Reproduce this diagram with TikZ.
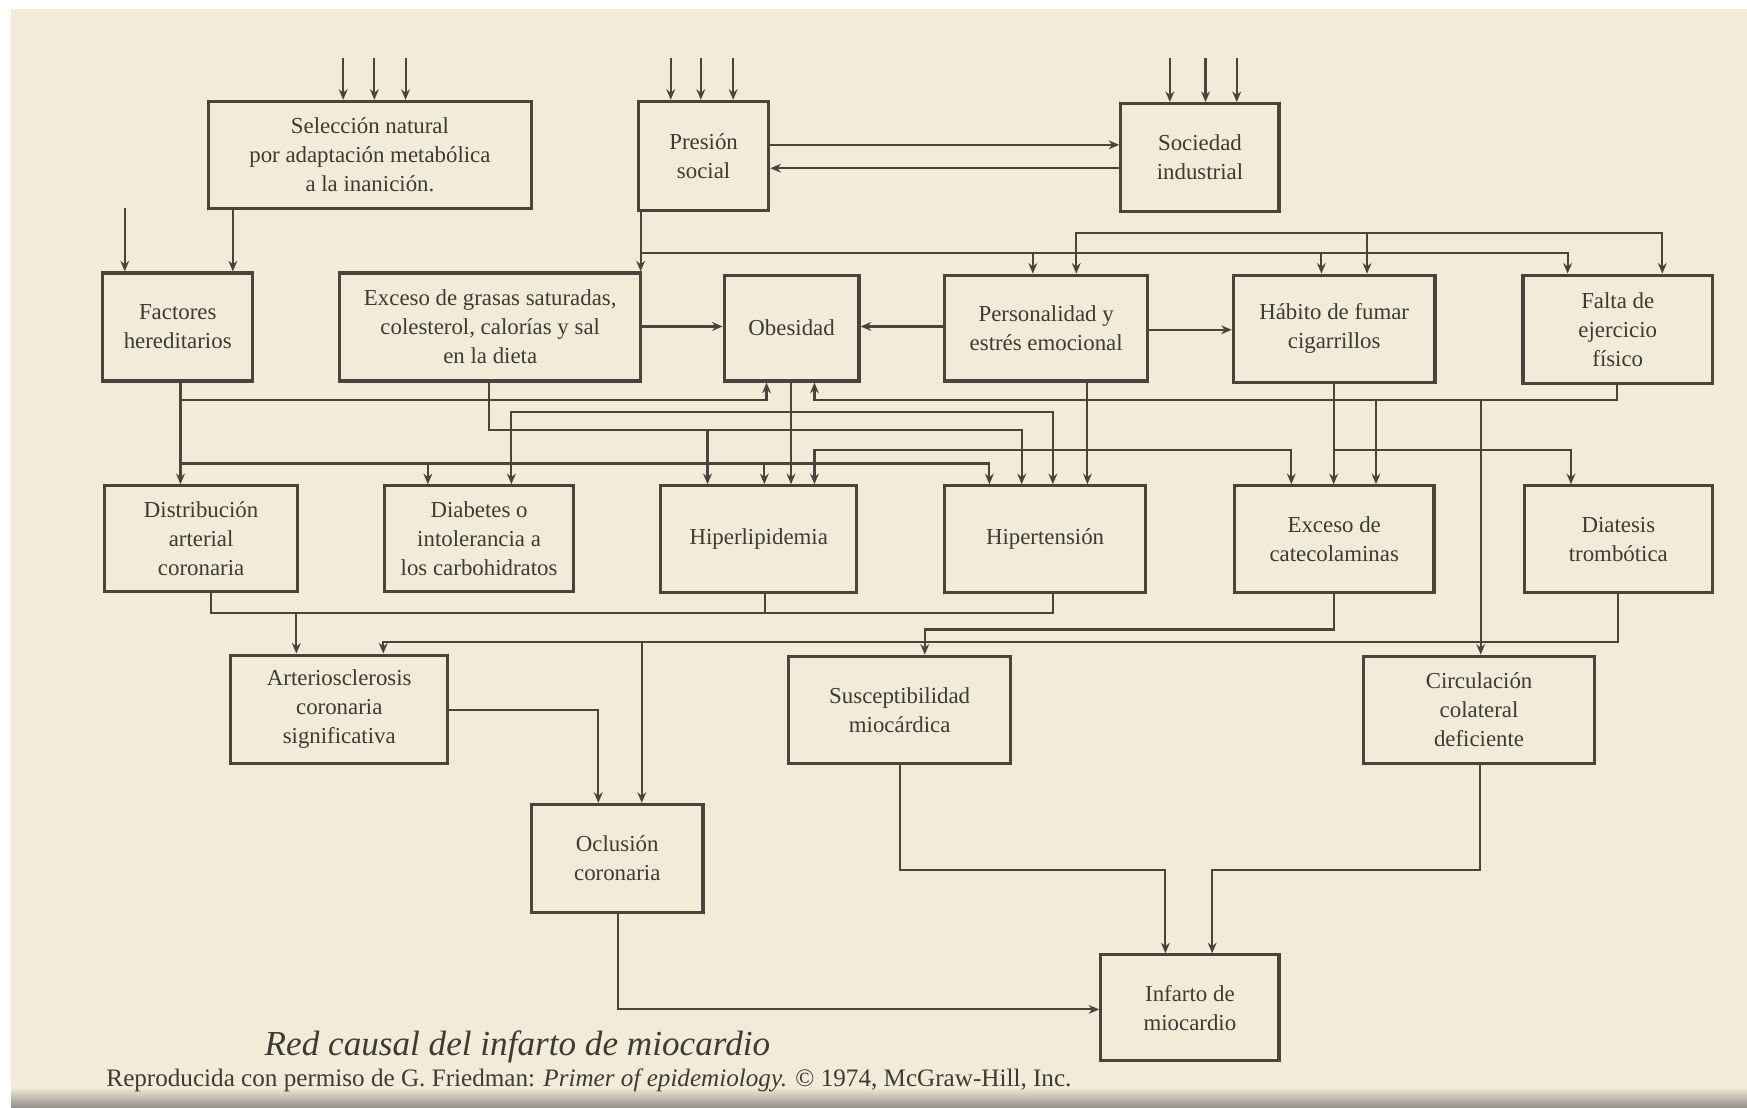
\documentclass[tikz,border=0pt]{standalone}
\usepackage{fontspec}
\setmainfont{Liberation Serif}
\usetikzlibrary{arrows.meta}
\definecolor{paper}{HTML}{F2EBD8}
\definecolor{ink}{HTML}{4A443C}
\definecolor{txt}{HTML}{3E3A34}
\newcommand{\pxu}{0.02228cm}
% box node: name, centre x, centre y, width, height, text
\newcommand{\bx}[6]{\node[box, minimum width=#4*\pxu, minimum height=#5*\pxu] (#1) at (#2,#3) {#6};}
\begin{document}
\begin{tikzpicture}[x=0.02228cm,y=-0.02228cm,
  box/.style={draw=ink, line width=1.8pt, align=center, text=txt,
    font=\fontsize{13}{16.5}\selectfont, inner sep=0pt},
  wire/.style={draw=ink, line width=1.2pt},
  arr/.style={wire, -{Stealth[length=6pt,width=5pt]}},
]
\useasboundingbox (0,0) rectangle (1568,994);
% page
\fill[white] (0,0) rectangle (1568,994);
\fill[paper] (10,8) rectangle (1568,994);
\shade[top color=paper, bottom color=ink!60] (10,976) rectangle (1568,994);

% reference lines for the connectors
\foreach \v in {112,162,189,209,266,308,336,344,364,384,439,459,537,555,575,576,602,629,635,658,686,687,688,710,731,808,830,888,917,927,945,966,976,1046,1050,1082,1088,1110,1159,1186,1197,1227,1235,1328,1329,1407,1410,1451,1452,1492}
  {\coordinate (x\v) at (\v,0);}
\foreach \v in {52,130,151,187,209,227,293,296,359,370,386,404,416,550,565,576,637,781,906}
  {\coordinate (y\v) at (0,\v);}

% boxes
\bx{sel}{332}{139}{290}{96}{Selección natural\\por adaptación metabólica\\a la inanición.}
\bx{pres}{631.5}{140}{117}{98}{Presión\\social}
\bx{soc}{1077}{141.5}{142}{97}{Sociedad\\industrial}
\bx{fac}{159.5}{293.5}{135}{97}{Factores\\hereditarios}
\bx{grasa}{440}{293.5}{270}{97}{Exceso de grasas saturadas,\\colesterol, calorías y sal\\en la dieta}
\bx{obes}{710.5}{294.5}{121}{95}{Obesidad}
\bx{pers}{939}{294.5}{182}{95}{Personalidad y\\estrés emocional}
\bx{fuma}{1197.5}{295}{181}{96}{Hábito de fumar\\cigarrillos}
\bx{falta}{1452}{295.5}{170}{97}{Falta de\\ejercicio\\físico}
\bx{dist}{180.5}{483.5}{173}{95}{Distribución\\arterial\\coronaria}
\bx{diab}{430}{483.5}{170}{95}{Diabetes o\\intolerancia a\\los carbohidratos}
\bx{hlip}{681}{484}{176}{96}{Hiperlipidemia}
\bx{htens}{938}{484}{180}{96}{Hipertensión}
\bx{cate}{1197.5}{484}{179}{96}{Exceso de\\catecolaminas}
\bx{diat}{1452.5}{484}{169}{96}{Diatesis\\trombótica}
\bx{arter}{304.5}{636.5}{195}{97}{Arteriosclerosis\\coronaria\\significativa}
\bx{susc}{807.5}{637}{199}{96}{Susceptibilidad\\miocárdica}
\bx{circ}{1327.5}{637}{207}{96}{Circulación\\colateral\\deficiente}
\bx{ocl}{554}{770.5}{154}{97}{Oclusión\\coronaria}
\bx{inf}{1068}{904.5}{160}{95}{Infarto de\\miocardio}

% incoming causes from outside
\foreach \v in {308,336,364} {\draw[arr] (x\v |- y52) -- (sel.north -| x\v);}
\foreach \v in {602,629,658} {\draw[arr] (x\v |- y52) -- (pres.north -| x\v);}
\foreach \v in {1050,1082,1110} {\draw[arr] (x\v |- y52) -- (soc.north -| x\v);}
\draw[arr] (x112 |- y187) -- (fac.north -| x112);
\draw[arr] (sel.south -| x209) -- (fac.north -| x209);

% presion social <-> sociedad industrial
\draw[arr] (pres.east |- y130) -- (soc.west |- y130);
\draw[arr] (soc.west |- y151) -- (pres.east |- y151);

% presion social
\draw[arr] (pres.south -| x575) -- (grasa.north -| x575);
\draw[arr] (x575 |- y227) -| (falta.north -| x1407);
\draw[arr] (x927 |- y227) -- (pers.north -| x927);
\draw[arr] (x1186 |- y227) -- (fuma.north -| x1186);

% upper bus over the second row
\draw[arr] (x1227 |- y209) -| (pers.north -| x966);
\draw[arr] (x1227 |- y209) -| (falta.north -| x1492);
\draw[arr] (x1227 |- y209) -- (fuma.north -| x1227);

% second row
\draw[arr] (grasa.east |- y293) -- (obes.west |- y293);
\draw[arr] (pers.west |- y293) -- (obes.east |- y293);
\draw[arr] (pers.east |- y296) -- (fuma.west |- y296);

% factores hereditarios
\draw[arr] (fac.south -| x162) -- (dist.north -| x162);
\draw[arr] (x162 |- y359) -| (obes.south -| x688);
\draw[arr] (x162 |- y416) -| (htens.north -| x888);
\draw[arr] (x384 |- y416) -- (diab.north -| x384);
\draw[arr] (x686 |- y416) -- (hlip.north -| x686);

% exceso de grasas
\draw[arr] (grasa.south -| x439) |- (x917 |- y386) -- (htens.north -| x917);
\draw[arr] (x635 |- y386) -- (hlip.north -| x635);

% obesidad
\draw[arr] (obes.south -| x710) -- (hlip.north -| x710);
\draw[arr] (x710 |- y370) -| (diab.north -| x459);
\draw[arr] (x710 |- y370) -| (htens.north -| x945);

% personalidad
\draw[arr] (pers.south -| x976) -- (htens.north -| x976);
\draw[arr] (x976 |- y404) -| (hlip.north -| x731);
\draw[arr] (x976 |- y404) -| (cate.north -| x1159);

% habito de fumar
\draw[arr] (fuma.south -| x1197) -- (cate.north -| x1197);
\draw[arr] (x1197 |- y404) -| (diat.north -| x1410);

% falta de ejercicio
\draw[arr] (falta.south -| x1451) |- (x731 |- y359) -- (obes.south -| x731);
\draw[arr] (x1329 |- y359) -- (circ.north -| x1329);
\draw[arr] (x1235 |- y359) -- (cate.north -| x1235);

% third row to fourth row
\draw[wire] (dist.south -| x189) -- (x189 |- y550) -- (x945 |- y550) -- (htens.south -| x945);
\draw[wire] (hlip.south -| x687) -- (x687 |- y550);
\draw[arr] (x266 |- y550) -- (arter.north -| x266);
\draw[arr] (cate.south -| x1197) |- (x830 |- y565) -- (susc.north -| x830);
\draw[arr] (diat.south -| x1452) |- (x344 |- y576) -- (arter.north -| x344);
\draw[arr] (x576 |- y576) -- (ocl.north -| x576);

% towards the infarction
\draw[arr] (arter.east |- y637) -| (ocl.north -| x537);
\draw[arr] (susc.south -| x808) |- (x1046 |- y781) -- (inf.north -| x1046);
\draw[arr] (circ.south -| x1328) |- (x1088 |- y781) -- (inf.north -| x1088);
\draw[arr] (ocl.south -| x555) |- (inf.west |- y906);

% caption and credit
\node[anchor=base west, text=txt, font=\fontsize{20}{24}\selectfont\itshape] (cap) at (232,947) {Red causal del infarto de miocardio};
\node[anchor=base west, text=txt, font=\fontsize{14.3}{16}\selectfont] (credit) at (90,975) {Reproducida con permiso de G. Friedman: \textit{Primer of epidemiology.} © 1974, McGraw-Hill, Inc.};
\end{tikzpicture}
\end{document}
